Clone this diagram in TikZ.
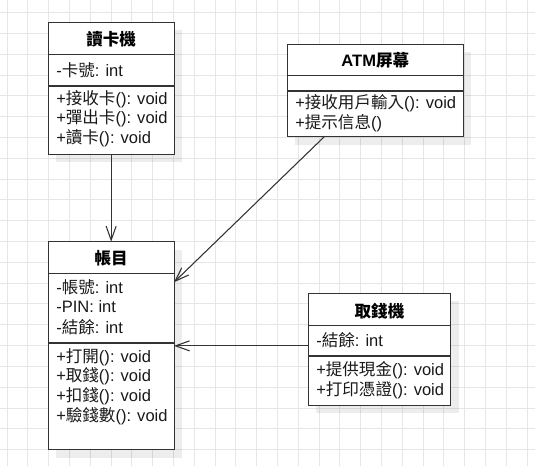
\documentclass[tikz,border=0pt]{standalone}
\usepackage{fontspec}
\setmainfont{Liberation Sans}
\newfontfamily\cjk{Noto Sans CJK TC}
\newcommand\zh[1]{{\cjk #1}}
\usetikzlibrary{arrows.meta,calc}
\definecolor{gridc}{HTML}{E6E6E6}
\definecolor{edge}{HTML}{333333}
\tikzset{
  umlbox/.style={draw=edge, line width=0.75pt, fill=white, inner sep=0pt, outer sep=0pt},
  shadowbox/.style={fill=black, opacity=0.07, draw=none},
  sepline/.style={draw=edge, line width=0.75pt},
  septhick/.style={draw=edge, line width=1.3pt},
  title/.style={font=\fontsize{12.4pt}{14pt}\selectfont\bfseries, inner sep=0pt, anchor=center},
  member/.style={font=\fontsize{12.4pt}{14pt}\selectfont, inner sep=0pt, anchor=west, text=black!90},
  assoc/.style={draw=edge, line width=0.8pt, -{Straight Barb[length=10.5pt,width=7.5pt,line width=0.8pt]}},
}
\begin{document}
\begin{tikzpicture}[x=0.75pt,y=-0.75pt]
\useasboundingbox (0,0) rectangle (535,466);
\fill[white] (0,0) rectangle (535,466);
% grid
\foreach \i in {0,...,25} {\draw[gridc, line width=0.75pt] ({7+20.8*\i},0) -- ({7+20.8*\i},466);}
\foreach \j in {0,...,22} {\draw[gridc, line width=0.75pt] (0,{12.8+20.8*\j}) -- (535,{12.8+20.8*\j});}
% shadows
\fill[shadowbox] (56.3,30.3) rectangle (182,162.3);
\fill[shadowbox] (295.3,52.3) rectangle (471.3,144.7);
\fill[shadowbox] (56.3,249.7) rectangle (182,458);
\fill[shadowbox] (316.3,301.3) rectangle (458.7,413);
% boxes
\node[umlbox, minimum width=94.3pt, minimum height=99pt] (reader) at (111.15,88.3) {};
\node[umlbox, minimum width=132pt, minimum height=69.3pt] (atm) at (375.3,90.5) {};
\node[umlbox, minimum width=94.3pt, minimum height=156.2pt] (account) at (111.15,345.85) {};
\node[umlbox, minimum width=106.8pt, minimum height=83.8pt] (withdraw) at (379.5,349.15) {};
% separators
\draw[sepline] (48.3,55) -- (174,55);
\draw[septhick] (48.3,85.7) -- (174,85.7);
\draw[sepline] (287.3,75.7) -- (463.3,75.7);
\draw[septhick] (287.3,91) -- (463.3,91);
\draw[sepline] (48.3,274) -- (174,274);
\draw[septhick] (48.3,342.7) -- (174,342.7);
\draw[sepline] (308.3,326) -- (450.7,326);
\draw[septhick] (308.3,355.7) -- (450.7,355.7);
% texts: reader
\node[title] (t1) at (111.15,39.5) {\zh{讀卡機}};
\node[member] (a1) at (56,70) {-\zh{卡號}: int};
\node[member] (m1a) at (56,99) {+\zh{接收卡}(): void};
\node[member] (m1b) at (56,118.5) {+\zh{彈出卡}(): void};
\node[member] (m1c) at (56,138) {+\zh{讀卡}(): void};
% atm
\node[title] (t2) at (375.3,60) {ATM\zh{屏幕}};
\node[member] (m2a) at (295,103.5) {+\zh{接收用戶輸入}(): void};
\node[member] (m2b) at (295,123.3) {+\zh{提示信息}()};
% account
\node[title] (t3) at (111.15,258.3) {\zh{帳目}};
\node[member] (a3a) at (56,287.5) {-\zh{帳號}: int};
\node[member] (a3b) at (56,307) {-PIN: int};
\node[member] (a3c) at (56,326.7) {-\zh{結餘}: int};
\node[member] (m3a) at (56,357) {+\zh{打開}(): void};
\node[member] (m3b) at (56,376.7) {+\zh{取錢}(): void};
\node[member] (m3c) at (56,396.5) {+\zh{扣錢}(): void};
\node[member] (m3d) at (56,416) {+\zh{驗錢數}(): void};
% withdraw
\node[title] (t4) at (379.5,311) {\zh{取錢機}};
\node[member] (a4) at (316,340) {-\zh{結餘}: int};
\node[member] (m4a) at (316,370.5) {+\zh{提供現金}(): void};
\node[member] (m4b) at (316,390) {+\zh{打印憑證}(): void};
% connectors
\draw[assoc] (reader.south) -- (account.north);
\draw[assoc] ($(atm.south)+(-51,0)$) -- ($(account.east)+(0,-63.6)$);
\draw[assoc] (account.east -| withdraw.west) -- (account.east);
\end{tikzpicture}
\end{document}
